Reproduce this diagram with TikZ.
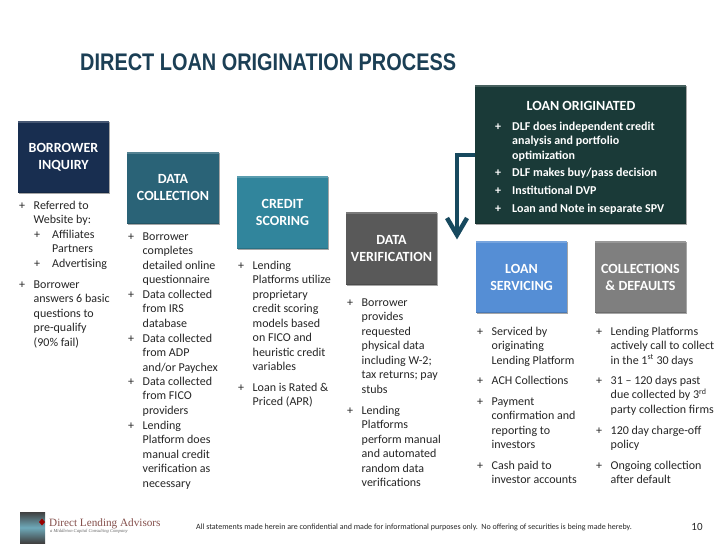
\documentclass[tikz,border=0pt]{standalone}
\usepackage{fontspec}
\setmainfont{Carlito}
\newfontfamily\titlefont[FakeStretch=0.83]{Liberation Sans}
\newfontfamily\logofont{Liberation Serif}
\usetikzlibrary{shadows,arrows.meta}
\definecolor{cNavy}{HTML}{182E50}
\definecolor{cTealD}{HTML}{2A6377}
\definecolor{cTeal}{HTML}{31859C}
\definecolor{cSlate}{HTML}{595959}
\definecolor{cForest}{HTML}{1A3A38}
\definecolor{cBlue}{HTML}{558ED5}
\definecolor{cGrey}{HTML}{7F7F7F}
\definecolor{cTitle}{HTML}{1B3F55}
\definecolor{cArrow}{HTML}{17495E}
\definecolor{cText}{HTML}{262626}
\definecolor{cLogo}{HTML}{85504C}
\tikzset{
 x=1pt,y=-1pt,
 stage/.style={anchor=north west,inner sep=0pt,outer sep=0pt,text=white,align=center,
   font=\fontsize{14}{17}\selectfont\bfseries,
   drop shadow={shadow xshift=0.8pt,shadow yshift=-1.2pt,opacity=.35,fill=black},
   path picture={
     \fill[white,opacity=.2] (path picture bounding box.north west) rectangle ([yshift=-2pt]path picture bounding box.north east);
     \fill[black,opacity=.15] (path picture bounding box.south west) rectangle ([yshift=1.5pt]path picture bounding box.south east);}},
 itemtxt/.style={anchor=north west,inner sep=0pt,align=left,text=cText,
   font=\fontsize{12}{14.5}\selectfont},
 plus/.style={anchor=base west,inner sep=0pt,text=cText,font=\fontsize{12}{14.5}\selectfont},
 wtxt/.style={anchor=north west,inner sep=0pt,align=left,text=white,
   font=\fontsize{12}{14.5}\selectfont\bfseries},
 wplus/.style={anchor=base west,inner sep=0pt,text=white,font=\fontsize{12}{14.5}\selectfont\bfseries},
}
\newcommand{\stagebox}[7]{% name x y w h colour text
 \node[stage,fill=#6,minimum width=#4pt,minimum height=#5pt] (#1) at (#2,#3) {#7};}
\newcommand{\itm}[4]{% name x baseline text
 \node[plus] (#1p) at (#2,#3) {+};
 \node[itemtxt] (#1) at (#2+14.5,#3-9) {\rule{0pt}{9pt}#4};}
\newcommand{\subitm}[4]{% name x baseline text
 \node[plus] (#1p) at (#2,#3) {+};
 \node[itemtxt] (#1) at (#2+18,#3-9) {\rule{0pt}{9pt}#4};}
\newcommand{\witm}[4]{%
 \node[wplus] (#1p) at (#2,#3) {+};
 \node[wtxt] (#1) at (#2+17,#3-9) {\rule{0pt}{9pt}#4};}
\begin{document}
\begin{tikzpicture}
\useasboundingbox (0,0) rectangle (728,546);
\fill[white] (0,0) rectangle (728,546);
\node[anchor=base west,inner sep=0pt,text=cTitle,font=\fontsize{24}{26}\titlefont\bfseries] (title) at (80,70) {DIRECT LOAN ORIGINATION PROCESS};

\stagebox{bi}{18}{121}{91}{72}{cNavy}{BORROWER\\INQUIRY}
\stagebox{dc}{127}{152}{92}{72}{cTealD}{DATA\\COLLECTION}
\stagebox{cs}{237}{176}{91}{73}{cTeal}{CREDIT\\SCORING}
\stagebox{dv}{346}{212}{91}{73}{cSlate}{DATA\\VERIFICATION}
\stagebox{lo}{475}{85}{211}{139}{cForest}{}
\stagebox{ls}{476}{241}{91}{72}{cBlue}{LOAN\\SERVICING}
\stagebox{cd}{595}{241}{91}{72}{cGrey}{COLLECTIONS\\\& DEFAULTS}

\node[anchor=base,inner sep=0pt,text=white,font=\fontsize{14}{16}\selectfont\bfseries] (lot) at (581,110) {LOAN ORIGINATED};
\witm{w1}{495}{130}{DLF does independent credit\\analysis and portfolio\\optimization}
\witm{w2}{495}{176}{DLF makes buy/pass decision}
\witm{w3}{495}{194}{Institutional DVP}
\witm{w4}{495}{212}{Loan and Note in separate SPV}

\coordinate (bend) at (457,155);
\coordinate (tip) at (457,235);
\draw[cArrow,line width=4.5pt,line join=miter] (lo.west |- bend) -- (bend) -- (457,233);
\draw[cArrow,line width=4.5pt,line cap=butt,line join=miter] (447,218) -- (tip) -- (467,218);

% column 1
\itm{a1}{19}{209}{Referred to\\Website by:}
\subitm{a2}{34}{238}{Affiliates\\Partners}
\subitm{a3}{34}{267}{Advertising}
\itm{a4}{19}{288}{Borrower\\answers 6 basic\\questions to\\pre-qualify\\(90\% fail)}
% column 2
\itm{b1}{128}{240}{Borrower\\completes\\detailed online\\questionnaire}
\itm{b2}{128}{298}{Data collected\\from IRS\\database}
\itm{b3}{128}{342}{Data collected\\from ADP\\and/or Paychex}
\itm{b4}{128}{385}{Data collected\\from FICO\\providers}
\itm{b5}{128}{429}{Lending\\Platform does\\manual credit\\verification as\\necessary}
% column 3
\itm{c1}{238}{269}{Lending\\Platforms utilize\\proprietary\\credit scoring\\models based\\on FICO and\\heuristic credit\\variables}
\itm{c2}{238}{391}{Loan is Rated \&\\Priced (APR)}
% column 4
\itm{d1}{347}{306}{Borrower\\provides\\requested\\physical data\\including W-2;\\tax returns; pay\\stubs}
\itm{d2}{347}{414}{Lending\\Platforms\\perform manual\\and automated\\random data\\verifications}
% column 5
\itm{e1}{477}{335}{Serviced by\\originating\\Lending Platform}
\itm{e2}{477}{384}{ACH Collections}
\itm{e3}{477}{405}{Payment\\confirmation and\\reporting to\\investors}
\itm{e4}{477}{469}{Cash paid to\\investor accounts}
% column 6
\itm{f1}{596}{335}{Lending Platforms\\actively call to collect\\in the 1\textsuperscript{st} 30 days}
\itm{f2}{596}{384}{31 -- 120 days past\\due collected by 3\textsuperscript{rd}\\party collection firms}
\itm{f3}{596}{434}{120 day charge-off\\policy}
\itm{f4}{596}{469}{Ongoing collection\\after default}

% footer
\shade[top color=black!75,bottom color=black!75,middle color=cTeal!70] (20,512) rectangle (45,543);
\fill[red!60!black] (42,518.5) -- (45,522) -- (42,525.5) -- (39,522) -- cycle;
\node[anchor=base west,inner sep=0pt,text=cLogo,font=\fontsize{11.2}{13}\logofont] (logo) at (49,526) {Direct Lending Advisors};
\node[anchor=base west,inner sep=0pt,text=black!60,font=\fontsize{4.6}{5}\logofont\itshape] (logos) at (50,532.5) {a Middleton Capital Consulting Company};
\node[anchor=base west,inner sep=0pt,text=cText,font=\fontsize{8}{10}\selectfont] (fine) at (196,529) {All statements made herein are confidential and made for informational purposes only.\ \ No offering of securities is being made hereby.};
\node[anchor=base,inner sep=0pt,text=cText,font=\fontsize{11}{12}\selectfont] (pg) at (697,530) {10};
\end{tikzpicture}
\end{document}
